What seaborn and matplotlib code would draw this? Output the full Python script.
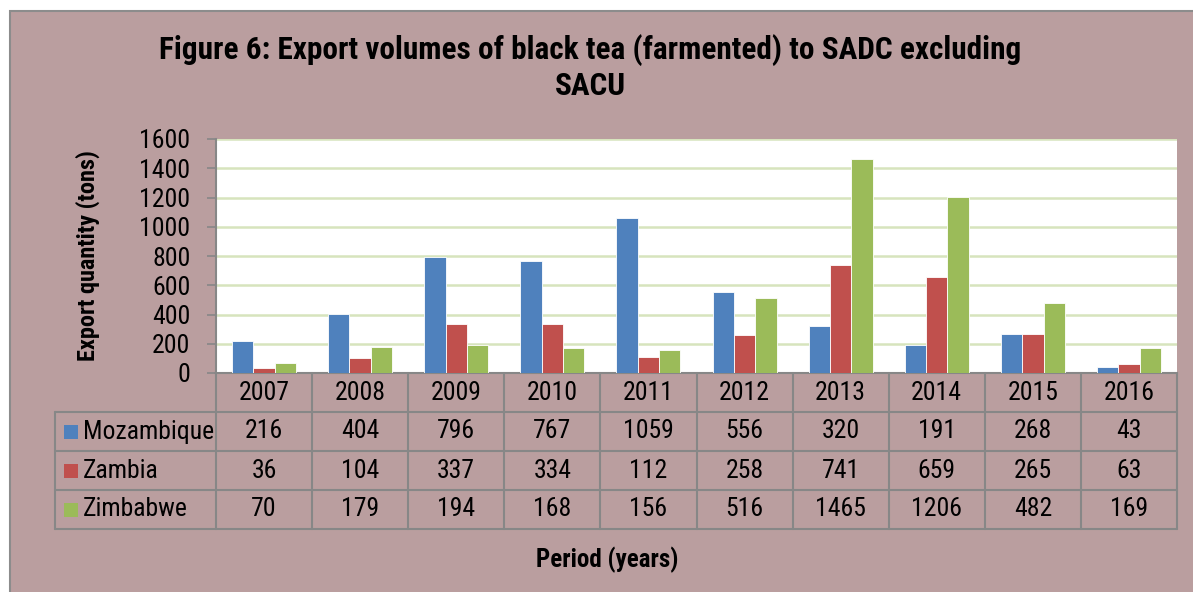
import matplotlib
matplotlib.use("Agg")
import matplotlib.pyplot as plt
from matplotlib import font_manager
from matplotlib.patches import Rectangle
from matplotlib.lines import Line2D
from matplotlib.transforms import blended_transform_factory
import seaborn as sns
import pandas as pd

# Export volumes (tons) of black tea to SADC (excluding SACU)
years = ["2007", "2008", "2009", "2010", "2011", "2012", "2013", "2014", "2015", "2016"]
mozambique = [216, 404, 796, 767, 1059, 556, 320, 191, 268, 43]
zambia = [36, 104, 337, 334, 112, 258, 741, 659, 265, 63]
zimbabwe = [70, 179, 194, 168, 156, 516, 1465, 1206, 482, 169]
series_names = ["Mozambique", "Zambia", "Zimbabwe"]
series_colors = ["#4F81BD", "#C0504D", "#9BBB59"]
y_ticks = [0, 200, 400, 600, 800, 1000, 1200, 1400, 1600]

BG = "#BA9E9F"
GRID = "#D7E4BD"
LINE = "#878787"

sns.set_theme(style="white")

# pick a narrow sans family that has both a regular and a bold face
weights = {}
for f in font_manager.fontManager.ttflist:
    w = f.weight if isinstance(f.weight, int) else (700 if f.weight == "bold" else 400)
    weights.setdefault(f.name, set()).add(w)
family = "Liberation Sans"
for cand in ["Liberation Sans Narrow", "Arial Narrow", "Roboto Condensed",
             "PT Sans Narrow", "Archivo Narrow", "Pragati Narrow"]:
    ws = weights.get(cand, set())
    if 400 in ws and any(w >= 700 for w in ws):
        family = cand
        break
plt.rcParams["font.family"] = [family, "DejaVu Sans"]

W, H = 1193, 592
fig = plt.figure(figsize=(W / 100, H / 100), dpi=100)
fig.patch.set_facecolor("white")


def fx(px):
    return px / W


def fy(py):
    return 1 - py / H


# chart area background with thin border
fig.patches.append(Rectangle((fx(10), fy(620)), fx(1220) - fx(10), fy(11) - fy(620),
                             transform=fig.transFigure, facecolor=BG,
                             edgecolor="#8C8C8C", linewidth=1.5, zorder=-10))

left, right, top, bottom = 216, 1177, 139, 373
ax = fig.add_axes([fx(left), fy(bottom), fx(right) - fx(left), fy(top) - fy(bottom)])
ax.set_facecolor("white")

df = pd.DataFrame({
    "year": years * 3,
    "value": mozambique + zambia + zimbabwe,
    "country": [series_names[0]] * len(years) + [series_names[1]] * len(years)
               + [series_names[2]] * len(years),
})

sns.barplot(data=df, x="year", y="value", hue="country", palette=series_colors,
            hue_order=series_names, order=years, width=0.667, saturation=1,
            edgecolor="white", linewidth=0.6, legend=False, ax=ax, zorder=3)

ax.set_xlim(-0.5, len(years) - 0.5)
ax.set_ylim(0, 1600)
ax.set_yticks(y_ticks)
ax.set_yticklabels([str(v) for v in y_ticks])
ax.set_xticks([])
ax.set_xlabel("")
ax.set_ylabel("")
ax.yaxis.grid(True, color=GRID, linewidth=1.8)
ax.set_axisbelow(True)
for side in ["top", "right"]:
    ax.spines[side].set_visible(False)
for side in ["left", "bottom"]:
    ax.spines[side].set_visible(True)
    ax.spines[side].set_color(LINE)
    ax.spines[side].set_linewidth(1.5)
ax.tick_params(axis="y", left=True, length=6.5, width=1.2, color=LINE,
               labelsize=18.5, pad=12, labelcolor="black")

# data table under the axis
row_edges = [bottom, 412, 451, 490, 529]
label_left = 55
col_tr = blended_transform_factory(ax.transData, fig.transFigure)

for y in row_edges[1:]:
    fig.add_artist(Line2D([fx(label_left), fx(right)], [fy(y), fy(y)],
                          transform=fig.transFigure, color=LINE, linewidth=1.5))
fig.add_artist(Line2D([fx(label_left), fx(label_left)], [fy(row_edges[1]), fy(row_edges[-1])],
                      transform=fig.transFigure, color=LINE, linewidth=1.5))
for k in range(len(years) + 1):
    xk = k - 0.5
    fig.add_artist(Line2D([xk, xk], [fy(bottom), fy(row_edges[-1])],
                          transform=col_tr, color=LINE, linewidth=1.5))

text_size = 18.5
hy = (row_edges[0] + row_edges[1]) / 2
for i, yr in enumerate(years):
    fig.text(i, fy(hy), yr, transform=col_tr, ha="center", va="center",
             fontsize=text_size, color="black")

series_values = [mozambique, zambia, zimbabwe]
for r, (name, vals, col) in enumerate(zip(series_names, series_values, series_colors)):
    cy = (row_edges[r + 1] + row_edges[r + 2]) / 2
    fig.patches.append(Rectangle((fx(64), fy(cy + 7)), fx(78) - fx(64), fy(cy - 7) - fy(cy + 7),
                                 transform=fig.transFigure, facecolor=col,
                                 edgecolor="none", zorder=2))
    fig.text(fx(83), fy(cy), name, ha="left", va="center", fontsize=text_size, color="black")
    for i, v in enumerate(vals):
        fig.text(i, fy(cy), str(v), transform=col_tr, ha="center", va="center",
                 fontsize=text_size, color="black")

# titles
fig.text(fx(590), fy(50), "Figure 6: Export volumes of black tea (farmented) to SADC excluding",
         ha="center", va="center", fontsize=22.5, fontweight="bold", color="black")
fig.text(fx(590), fy(86), "SACU", ha="center", va="center", fontsize=22.5,
         fontweight="bold", color="black")
fig.text(fx(88), fy((top + bottom) / 2), "Export quantity (tons)", rotation=90,
         ha="center", va="center", fontsize=17.5, fontweight="bold", color="black")
fig.text(fx(607), fy(560), "Period (years)", ha="center", va="center", fontsize=18,
         fontweight="bold", color="black")

fig.savefig("out.png", dpi=100, facecolor=fig.get_facecolor())
